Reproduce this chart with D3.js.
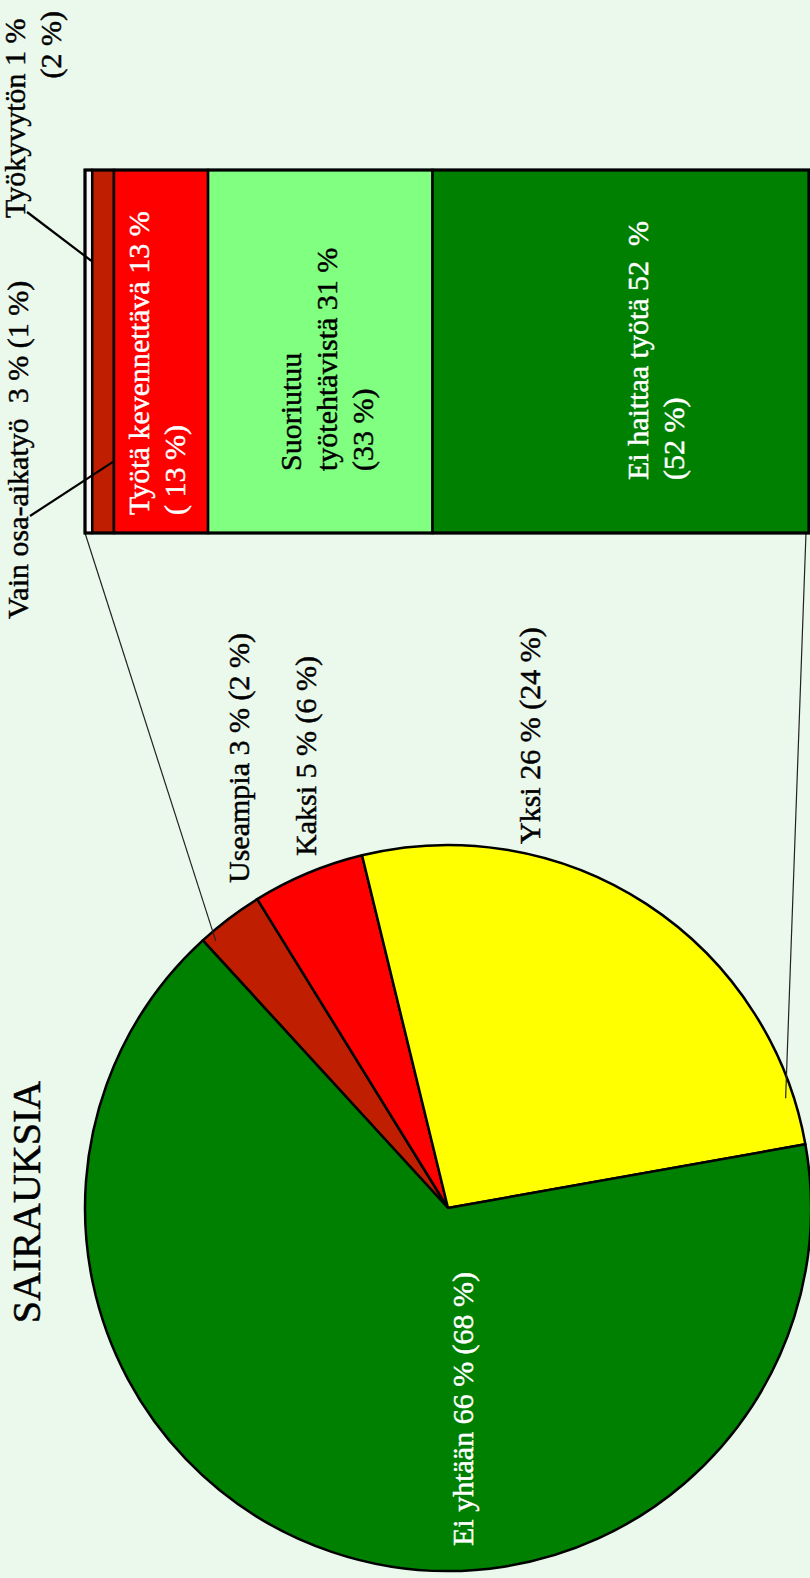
<!DOCTYPE html>
<html>
<head>
<meta charset="utf-8">
<script src="https://cdn.jsdelivr.net/npm/d3@7"></script>
<style>
  html, body { margin: 0; padding: 0; background: #eaf9ec; }
  svg { display: block; }
</style>
</head>
<body>
<script>
// Number of illnesses (pie) and how they affect work (bar)
const pieCategories = ["Useampia", "Kaksi", "Yksi", "Ei yhtään"];
const pieValues = [3, 5, 26, 66];
const piePrevious = [2, 6, 24, 68];
const pieColors = ["#c01e00", "#ff0000", "#ffff00", "#008000"];

const barCategories = ["Työkyvytön", "Vain osa-aikatyö", "Työtä kevennettävä", "Suoriutuu työtehtävistä", "Ei haittaa työtä"];
const barValues = [1, 3, 13, 31, 52];
const barPrevious = [2, 1, 13, 33, 52];
const barColors = ["#f8f8f8", "#c01e00", "#ff0000", "#80ff80", "#008000"];

const title = "SAIRAUKSIA";

// Page and drawing frame: everything is laid out in a landscape frame and turned a quarter turn.
const W = 810, H = 1578;
const SERIF = "Liberation Serif";
const svg = d3.select("body").append("svg").attr("width", W).attr("height", H)
  .attr("font-family", SERIF);
svg.append("rect").attr("width", W).attr("height", H).attr("fill", "#eaf9ec");
const g = svg.append("g").attr("transform", `translate(0,${H}) rotate(-90)`)
  .attr("font-family", SERIF);

const FONT = 30;
const deg = Math.PI / 180;

// shared text styling; a hairline stroke in the fill colour keeps the turned glyphs solid
function label(sel, colour = "#000") {
  return sel.attr("font-family", SERIF).attr("font-size", FONT)
    .attr("fill", colour).attr("stroke", colour).attr("stroke-width", 0.45)
    .attr("xml:space", "preserve").style("white-space", "pre");
}

// ---- Pie ----
const cx = 370, cy = 448, r = 363;
const startAngle = 47.5 * deg;
const pie = d3.pie().sort(null).value(d => d.value)
  .startAngle(startAngle).endAngle(startAngle + 2 * Math.PI);
const arc = d3.arc().innerRadius(0).outerRadius(r);
const pieData = pie(pieCategories.map((c, i) => ({ name: c, value: pieValues[i], prev: piePrevious[i], color: pieColors[i] })));

const pieG = g.append("g").attr("transform", `translate(${cx},${cy})`);
pieG.selectAll("path.slice").data(pieData).join("path")
  .attr("class", "slice")
  .attr("d", arc)
  .attr("fill", d => d.data.color)
  .attr("stroke", "#000").attr("stroke-width", 2.5).attr("stroke-linejoin", "round");

// pie label placement relative to the pie centre
const pieLabelPos = [
  { dx: 325, dy: -199, fill: "#000" },
  { dx: 352, dy: -132, fill: "#000" },
  { dx: 364, dy: 92, fill: "#000" },
  { dx: -338, dy: 25, fill: "#fff" }
];
pieData.forEach((d, i) => {
  pieG.append("text")
    .call(label, pieLabelPos[i].fill)
    .attr("x", pieLabelPos[i].dx)
    .attr("y", pieLabelPos[i].dy)
    .text(`${d.data.name} ${d.data.value} % (${d.data.prev} %)`);
});

// title
g.append("text")
  .attr("font-family", SERIF)
  .attr("x", cx + 6).attr("y", 40)
  .attr("text-anchor", "middle")
  .attr("font-size", 40)
  .attr("stroke", "#000").attr("stroke-width", 0.5)
  .text(title);

// ---- Stacked bar ----
const barBand = d3.scaleBand().domain([title]).range([1045, 1408]).padding(0);
const total = d3.sum(barValues);
const yBar = d3.scaleLinear().domain([0, total]).range([85, 809]);
const stackRows = [];
let acc = 0;
barValues.forEach((v, i) => {
  stackRows.push({ name: barCategories[i], value: v, prev: barPrevious[i], y0: acc, y1: acc + v, color: barColors[i] });
  acc += v;
});
const bx = barBand(title), bw = barBand.bandwidth();

// connector lines between the pie and the bar
const connectors = [
  { from: [bx, yBar(0)], angle: 49 * deg, rr: r - 9 },
  { from: [bx, yBar(total) - 3], angle: 162 * deg, rr: r - 8 }
];
g.selectAll("line.connector").data(connectors).join("line")
  .attr("class", "connector")
  .attr("x1", d => d.from[0]).attr("y1", d => d.from[1])
  .attr("x2", d => cx + d3.pointRadial(d.angle, d.rr)[0])
  .attr("y2", d => cy + d3.pointRadial(d.angle, d.rr)[1])
  .attr("stroke", "#222").attr("stroke-width", 1.2);

g.selectAll("rect.seg").data(stackRows).join("rect")
  .attr("class", "seg")
  .attr("x", bx).attr("width", bw)
  .attr("y", d => yBar(d.y0))
  .attr("height", d => yBar(d.y1) - yBar(d.y0))
  .attr("fill", d => d.color)
  .attr("stroke", "#000").attr("stroke-width", 2.5);

g.append("rect")
  .attr("x", bx).attr("y", yBar(0))
  .attr("width", bw).attr("height", yBar(total) - yBar(0))
  .attr("fill", "none").attr("stroke", "#000").attr("stroke-width", 3);

// labels inside the bar segments
const inside = [
  { i: 2, dx: 18, dy: -12, fill: "#fff",
    lines: d => [`${d.name} ${d.value} %`, `( ${d.prev} %)`] },
  { i: 3, dx: 62, dy: -19, fill: "#000",
    lines: d => [d.name.split(" ")[0], `${d.name.split(" ")[1]} ${d.value} %`, `(${d.prev} %)`] },
  { i: 4, dx: 53, dy: 27, fill: "#fff",
    lines: d => [`${d.name} ${d.value}  %`, `(${d.prev} %)`] }
];
inside.forEach(L => {
  const d = stackRows[L.i];
  const mid = (yBar(d.y0) + yBar(d.y1)) / 2;
  const t = g.append("text").call(label, L.fill)
    .attr("x", bx + L.dx).attr("y", mid + L.dy);
  L.lines(d).forEach((s, k) => {
    t.append("tspan").attr("x", bx + L.dx).attr("dy", k === 0 ? 0 : 36).text(s);
  });
});

// labels outside the bar with leader lines
const r0 = stackRows[0], r1 = stackRows[1];
const t0 = g.append("text").call(label).attr("text-anchor", "end")
  .attr("x", 1567).attr("y", 25);
t0.append("tspan").attr("x", 1567).attr("dy", 0).text(`${r0.name} ${r0.value} % `);
t0.append("tspan").attr("x", 1567).attr("dy", 36).text(`(${r0.prev} %)`);

g.append("text").call(label)
  .attr("x", 959).attr("y", 28)
  .text(`${r1.name}  ${r1.value} % (${r1.prev} %)`);

const leaders = [
  { x1: 1366, y1: 27, x2: bx + bw * 0.75, y2: yBar(r0.y1) - 1 },
  { x1: 1062, y1: 30, x2: bx + bw * 0.196, y2: yBar(r1.y1) - 1 }
];
g.selectAll("line.leader").data(leaders).join("line")
  .attr("class", "leader")
  .attr("x1", d => d.x1).attr("y1", d => d.y1)
  .attr("x2", d => d.x2).attr("y2", d => d.y2)
  .attr("stroke", "#000").attr("stroke-width", 2.2);
</script>
</body>
</html>
